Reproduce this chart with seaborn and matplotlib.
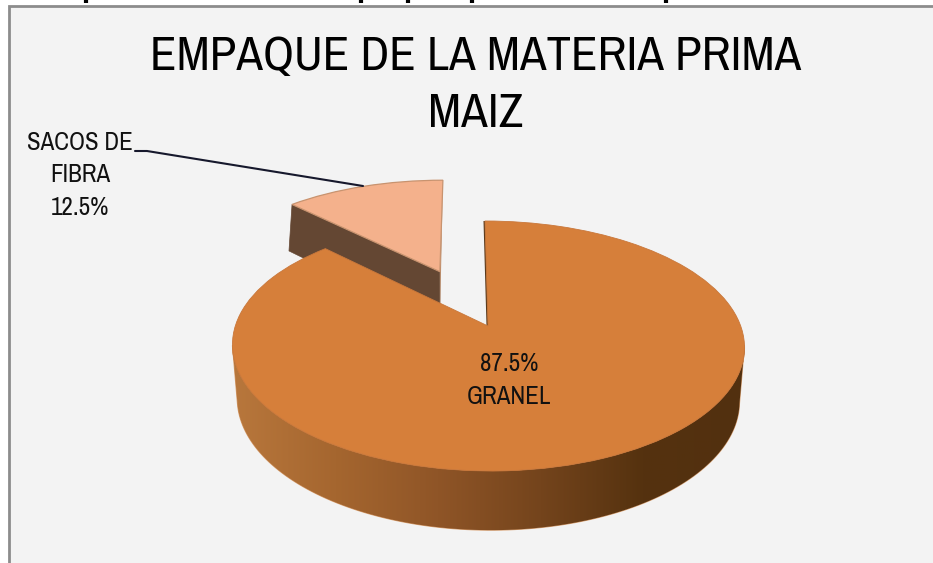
import numpy as np
import seaborn as sns
import matplotlib
matplotlib.use("Agg")
import matplotlib.pyplot as plt
from matplotlib.patches import PathPatch, Polygon
from matplotlib.path import Path
from matplotlib.transforms import Transform

labels = ["GRANEL", "SACOS DE\nFIBRA"]
shares = [87.5, 12.5]
colors = ["#d67f3a", "#f4b18c"]
explode = [0, 0.52]
title_lines = "EMPAQUE DE LA MATERIA PRIMA\nMAIZ"
# stubs of the cropped heading above the chart
stub_x = [86, 361, 408, 472, 666]

sns.set_theme(style="white")
plt.rcParams["font.family"] = ["Archivo Narrow", "Roboto Condensed", "Liberation Sans", "DejaVu Sans"]


class Tilt(Transform):
    # pie coordinates to pixels, with some perspective
    input_dims = 2
    output_dims = 2
    is_separable = False

    def __init__(self, cy, a, b, p):
        super().__init__()
        self.cy, self.a, self.b, self.p = cy, a, b, p

    def transform_non_affine(self, values):
        values = np.asarray(values)
        d = 1 + self.p * values[:, 1]
        return np.column_stack([488 - 3 * values[:, 1] + self.a * values[:, 0] / d, self.cy - self.b * values[:, 1] / d])


top = Tilt(326, 252.7, 121.8, 0.16)
low = Tilt(382.8, 249, 128.2, 0.13)


def arc(theta1, theta2, center=(0, 0), n=120):
    t = np.radians(np.linspace(theta1, theta2, n))
    return np.column_stack([center[0] + np.cos(t), center[1] + np.sin(t)])


fig = plt.figure(figsize=(9.33, 5.63), dpi=100, facecolor="white")
ax = fig.add_axes([0, 0, 1, 1])

wedges, _ = ax.pie(shares, colors=colors, explode=explode, startangle=135, counterclock=True)
ax.set_aspect("auto")
ax.set_frame_on(False)
ax.set_xticks([])
ax.set_yticks([])

big, small = wedges
for w, z in zip(wedges, [6, 3]):
    w.set_transform(top + ax.transData)
    w.set_zorder(z)
big.set_edgecolor("#c9773a")
big.set_linewidth(0.6)
small.set_edgecolor("#c8936f")
small.set_linewidth(0.9)

# plot area
ax.add_patch(plt.Rectangle((8.5, 5.5), 930, 560, facecolor="#f3f3f3", edgecolor="#8c8c8c", linewidth=2, zorder=0))
ax.vlines(stub_x, 0, 3.2, color="black", linewidth=3, zorder=1)

# cut faces of the pulled out slice
c = np.array(small.center)
t1, t2 = small.theta1 % 360, small.theta2 % 360
far = c + arc(t2, t2, n=1)[0]
near = c + arc(t1, t1, n=1)[0]
ax.add_patch(Polygon(np.vstack([top.transform(np.array([c, far])), low.transform(np.array([far, c]))]),
                     facecolor="#644733", edgecolor="#644733", linewidth=0.5, zorder=2))
ax.add_patch(Polygon(np.vstack([top.transform(np.array([c, near])), low.transform(np.array([near, c]))]),
                     facecolor="#b88a68", edgecolor="none", zorder=2))

# rim of the big slice, dark towards the right
rim = np.vstack([top.transform(arc(189, 351)), low.transform(arc(351, 189))])
rim_patch = PathPatch(Path(np.vstack([rim, rim[0]]), closed=True), facecolor="none", edgecolor="#d9a070", linewidth=0.8, zorder=5)
ax.add_patch(rim_patch)
shade = sns.blend_palette(["#b8773c", "#a5662f", "#8f5527", "#74441c", "#55320f", "#52300f"], as_cmap=True)
grad = ax.imshow(np.linspace(0, 1, 256)[None, :], cmap=shade, extent=(233, 746, 540, 340), aspect="auto", zorder=5)
grad.set_clip_path(PathPatch(Path(np.vstack([rim, rim[0]]), closed=True), transform=ax.transData))

# thin face along the straight edge of the big slice
edge = np.array([[0, 0], [0, 1]])
ax.add_patch(Polygon(np.vstack([top.transform(edge) + [-1.5, 0], top.transform(edge[::-1]) + [0.5, 0]]),
                     facecolor="#5a3a1c", edgecolor="none", zorder=5))

ax.set_xlim(0, 933)
ax.set_ylim(563, 0)

ax.text(476, 85, title_lines, ha="center", va="center", fontsize=35, color="black", linespacing=1.41, zorder=8)
ax.text(80, 175, "{}\n{}%".format(labels[1], shares[1]), ha="center", va="center", fontsize=18, color="#111111",
        linespacing=1.49, zorder=8)
ax.text(509, 380, "{}%\n{}".format(shares[0], labels[0]), ha="center", va="center", fontsize=18, color="#111111",
        linespacing=1.49, zorder=8)
ax.plot([135, 147, 363], [151, 151, 186], color="#16182c", linewidth=1.5, zorder=7)

fig.savefig("out.png", dpi=100)
